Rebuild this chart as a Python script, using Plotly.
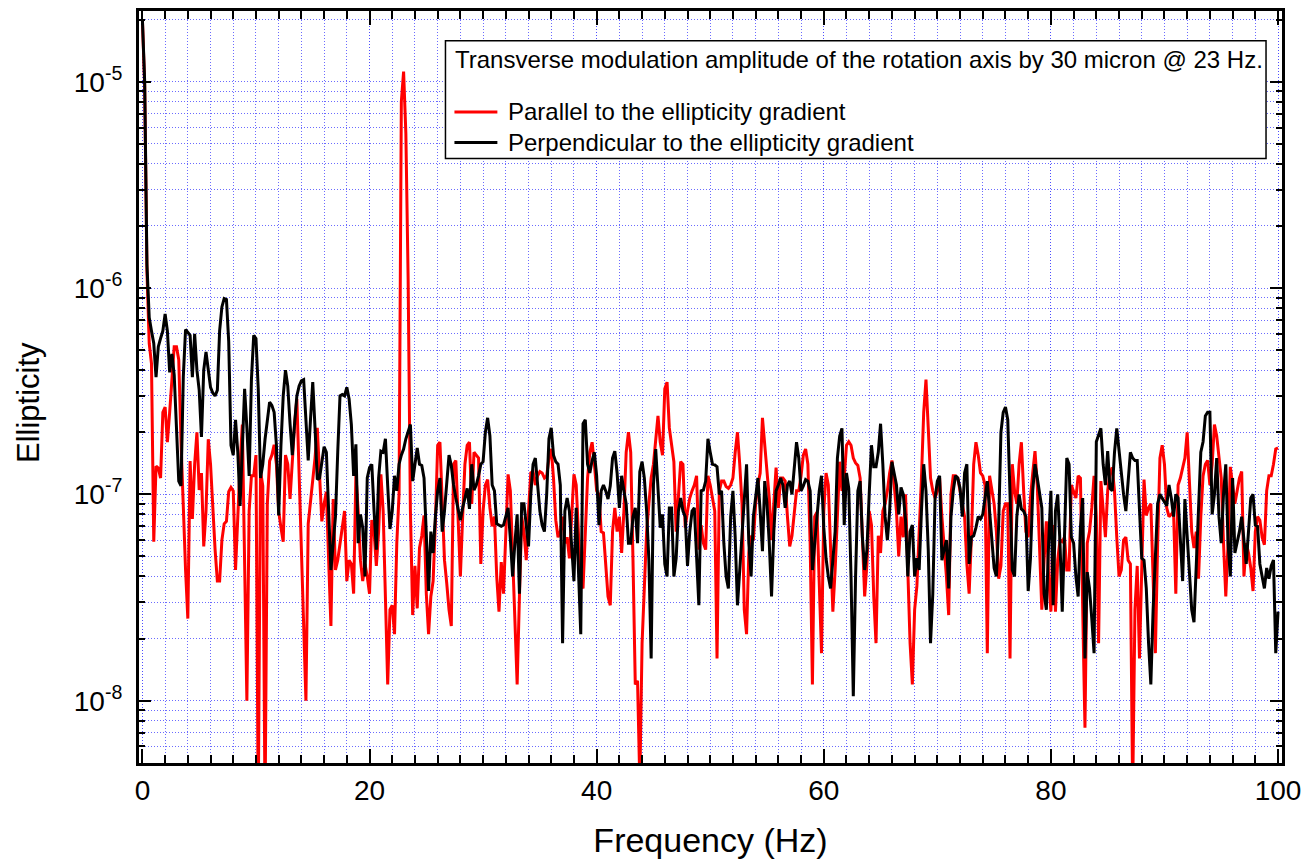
import plotly.graph_objects as go

# Ellipticity values in units of 1e-8, sampled every 0.2 Hz from 0 to 100 Hz
parallel_e8 = [
    2000, 950, 120, 54, 43, 5.9, 13.7, 13.4, 12, 25,
    26.5, 17.9, 25, 37, 52, 52, 45, 18, 8.5, 4.3,
    2.5, 14.5, 7.6, 14, 20, 10.5, 12.7, 5.6, 8.3, 18.5,
    14, 8.3, 5.4, 3.8, 3.8, 6, 7.2, 7.4, 10.3, 10.8,
    10.4, 4.3, 8.3, 14, 21.8, 4.6, 1.0, 8.3, 12.3, 12.3,
    15.5, 0.3, 13, 11, 0.3, 9, 14.5, 15.5, 17.4, 14,
    8.3, 6.9, 5.9, 15.5, 14, 9.5, 15.5, 21.8, 29, 12,
    4.5, 1.9, 1.0, 7.2, 9, 11.5, 15, 21, 12, 7.4,
    9, 10.3, 4.8, 2.3, 9.5, 4.3, 4.8, 5.8, 7.2, 8.3,
    3.8, 4.8, 4.6, 3.3, 12.5, 8.3, 4.8, 3.8, 4.6, 4,
    3.3, 7.5, 6.6, 4.5, 6.6, 12.5, 8.3, 2.76, 1.2, 2.76,
    2.9, 2.1, 5.8, 10, 800, 1120, 560, 110, 8.3, 2.6,
    4.5, 2.8, 5.5, 6.3, 7.9, 3.3, 2.1, 3.2, 3.8, 7.4,
    17.3, 17.9, 8.3, 4.8, 3.7, 2.76, 2.3, 14, 14.6, 8.3,
    4, 7.8, 14, 17.3, 17.9, 9, 16, 15.5, 15, 4.6,
    8.3, 11.1, 11.8, 8.6, 7, 7.8, 4, 2.7, 4.7, 3.3,
    6.6, 12.5, 10.4, 4.9, 2.3, 1.2, 3.2, 7.8, 6.6, 4.8,
    8.3, 12.7, 12.9, 11.1, 12.3, 12.9, 12.7, 12, 12.3, 15,
    16.6, 12, 7.5, 6.2, 6.6, 7.8, 5.8, 6.2, 4.9, 8.3,
    12.5, 11.1, 5.8, 3.7, 3.5, 6.6, 12, 16, 17.9, 14,
    10.4, 10, 6.6, 6.5, 4.6, 3.2, 2.9, 6.6, 8.6, 6.6,
    7.8, 5.2, 8.3, 16, 20, 16, 4.8, 1.2, 1.25, 0.4,
    1.9, 4, 6.6, 9, 12, 14, 18.6, 24, 17.9, 15.5,
    32.5, 35, 21, 17.3, 14.4, 6.6, 10.4, 14.4, 14, 6.9,
    8.3, 9.6, 10.4, 11.1, 12.3, 5.4, 7.1, 5.8, 5.4, 12.3,
    11.1, 9.6, 8.3, 1.6, 10.4, 11.6, 11.6, 10.9, 10.7, 11.1,
    12, 16, 20, 14, 9, 2.76, 2.1, 5.2, 6.3, 6,
    9, 11.1, 12.7, 23.5, 17.3, 12, 9.6, 6, 9, 13.5,
    8.6, 12, 12, 11.6, 7.8, 5.6, 6.3, 8.3, 10.4, 10.4,
    12.3, 15.5, 16.6, 14, 5.8, 1.2, 7.8, 8.2, 3.3, 1.7,
    8.3, 12.7, 11.1, 5.8, 2.7, 4.3, 8.3, 14.4, 10.4, 12,
    17.3, 18, 17.3, 15, 14.2, 13.8, 12, 5.8, 3.2, 4.6,
    8.3, 7.1, 3.2, 1.9, 6.3, 5.2, 8.3, 9, 10.4, 12.7,
    14.6, 11.1, 8.3, 5, 7.8, 6.2, 10, 4.3, 1.9, 1.2,
    2.76, 3.6, 6.2, 12, 25, 36, 21, 12, 10.4, 9.6,
    10.4, 12, 7.8, 5.8, 4, 2.6, 10, 12.3, 12.3, 12,
    10.4, 9, 7.8, 4.6, 3.3, 6.2, 14, 17.9, 15.5, 12.7,
    12.3, 11.1, 1.7, 12.3, 10.4, 9, 6.6, 3.9, 4.5, 8.3,
    9, 9, 1.6, 14, 10.4, 9, 14, 17.9, 10.4, 6.6,
    6.2, 9.6, 12.7, 16.2, 11.1, 5.4, 2.76, 4.8, 7.4, 4,
    2.7, 7.1, 2.7, 4.8, 6, 5.9, 6.2, 4.3, 4.3, 11.1,
    10.4, 9.6, 12.3, 12, 2.76, 0.74, 5.8, 6.6, 8.6, 12.3,
    7.8, 1.9, 11.6, 8.3, 6.2, 10.4, 12.7, 13.5, 10.4, 6.2,
    4, 4.3, 6, 6.2, 4.8, 4.6, 0.35, 2.76, 4.5, 1.6,
    4.6, 11.8, 7.9, 8.6, 9, 4, 1.7, 5.8, 15, 17.3,
    14, 8.6, 7.8, 8, 8.3, 3.3, 11.1, 12, 13.5, 15,
    20, 12, 6.6, 5.5, 6.6, 3.9, 7.8, 12.3, 14, 14.6,
    11.1, 14, 21.8, 19.2, 15, 12, 5.8, 3.2, 5.8, 13.6,
    11.1, 9, 10.4, 12, 12.9, 4, 5.8, 5.2, 4.4, 3.4,
    6.6, 7.8, 7.5, 6.2, 5.7, 10.4, 12.3, 12.3, 14, 16.6,
    16.8,
]

perpendicular_e8 = [
    2000, 1000, 130, 72, 62, 54, 37, 52, 57, 62,
    75, 62, 39, 48, 38, 21, 11.6, 11, 37, 63,
    61, 59, 37, 60, 40, 32, 19, 40, 49, 39,
    33, 31, 30, 32, 62, 81, 89, 88, 55, 17.3,
    15.5, 23, 16, 8.8, 17.3, 32.5, 21, 12.3, 36, 59,
    57, 32.5, 12, 14, 18.5, 23, 28, 27, 25, 17.3,
    7.9, 17.3, 30, 40, 33.5, 22, 15.5, 22, 30, 33.5,
    35.5, 36, 21, 14.6, 23, 35, 21, 11.8, 12, 14,
    17, 16, 8.3, 4.3, 5.8, 7.8, 16, 30, 30.5, 30,
    33, 29, 21.8, 12.3, 17.5, 5.8, 8, 6.9, 4, 12,
    13.5, 14, 8.3, 5.4, 12, 16.2, 16, 18.6, 11, 6.8,
    8.3, 12.3, 10.4, 14, 15.5, 16.6, 18.6, 20, 21.8, 11.6,
    14, 16.8, 14, 13.8, 12, 5.8, 3.4, 6.6, 5.2, 7.8,
    10.4, 12, 6.6, 8.3, 12, 15.5, 13.8, 11.1, 9.6, 8.6,
    7.5, 8.6, 9.6, 10.7, 8.5, 14, 10.5, 11.1, 12.3, 14,
    14.4, 20, 23.5, 19.2, 11.1, 10.4, 7.2, 7.1, 7, 7.1,
    7.8, 8.6, 6.1, 4, 5.8, 8, 3.3, 9, 9, 7.1,
    5.6, 10, 14, 15, 11.1, 8.3, 7.1, 6.6, 10, 18.6,
    21, 15.5, 14.4, 14, 11.1, 1.9, 8.3, 9.6, 8.3, 5.2,
    3.8, 8.6, 4.5, 2.1, 22, 23, 14, 12.7, 14.6, 16,
    12.3, 7.1, 10.4, 11.1, 10.4, 9.5, 11, 15, 16.2, 12.7,
    8.6, 12.3, 10.4, 9, 5.8, 5.8, 7.8, 8.6, 5.8, 12.9,
    14.4, 12, 8.3, 4.8, 1.6, 11.1, 16.6, 10, 6.9, 8,
    4.6, 4, 8.6, 8.6, 4, 4.9, 8.3, 9.6, 8.3, 7.8,
    4.5, 6.6, 8.3, 8.6, 4.8, 2.9, 10.4, 10.5, 11.6, 18.6,
    16, 14, 13.9, 13.6, 10, 10.4, 5.8, 4, 3.5, 7.8,
    10.4, 6.2, 2.9, 4.3, 7.1, 10.4, 14, 5.8, 4, 7.8,
    9.6, 12, 8.3, 5.3, 11.6, 9, 5.8, 3.2, 6.6, 10.4,
    11.1, 12, 11.1, 8.6, 11.1, 11.6, 10, 14, 17.9, 15,
    10.4, 11, 11.8, 11.6, 10.4, 4.3, 5.8, 7.8, 10.4, 12.3,
    6.9, 4.9, 4, 3.5, 4.6, 6.6, 15, 19.2, 20.9, 7.1,
    12.7, 10.7, 4, 1.05, 4, 10.4, 11.6, 6.2, 4.3, 5.4,
    10, 17.3, 13.6, 13.6, 16, 22, 14, 7.8, 6, 8.3,
    14.4, 12.7, 11.1, 8, 10.8, 10, 7.5, 4, 6.6, 7.1,
    4, 4.9, 4.3, 8.3, 14, 10.4, 5.4, 1.9, 3.3, 9.6,
    11.6, 12.3, 4.8, 5.4, 6, 3.5, 7.8, 10.4, 12.3, 12,
    10.7, 7.8, 12.7, 14, 4.6, 6.2, 6.3, 6.9, 7.8, 7.6,
    8, 9.6, 11.6, 8.3, 5.8, 4.4, 4, 7.1, 20, 25,
    26.5, 23, 10, 4.3, 4, 7.8, 10, 8.5, 8.3, 7.8,
    3.4, 4.9, 10.4, 14, 12, 10, 8.6, 3.3, 2.76, 5.8,
    10.4, 2.9, 8.3, 10, 5.8, 2.7, 6.6, 15, 14, 6.2,
    5.8, 4, 3.2, 6.9, 9.6, 1.6, 4.2, 3.5, 2.5, 1.7,
    18, 19.2, 20.9, 14, 11.1, 16.2, 10.7, 10.4, 16, 20.9,
    16, 12.7, 10, 8.3, 12, 16, 15, 14.6, 14.6, 8.3,
    4.9, 4.8, 3.5, 1.9, 1.2, 2.76, 5.4, 9, 10, 9.6,
    9.3, 8.8, 11.1, 9.6, 7.8, 10, 9.6, 6.2, 3.8, 9.5,
    6.1, 4, 2.76, 2.4, 4.3, 8.3, 16, 18, 24, 25,
    25, 8, 10, 15, 7.8, 5.8, 10, 14, 5.8, 4,
    12, 5.2, 5.8, 6.6, 7.8, 6, 4.6, 6.6, 9.6, 10,
    7.1, 7, 4.6, 4, 3.5, 4.4, 3.9, 4.5, 4.8, 1.7,
    2.7,
]

freq_step_hz = 0.2
frequency = [round(i * freq_step_hz, 1) for i in range(len(parallel_e8))]
parallel = [v * 1e-8 for v in parallel_e8]
perpendicular = [v * 1e-8 for v in perpendicular_e8]

x_ticks = [0, 20, 40, 60, 80, 100]
y_ticks = [1e-8, 1e-7, 1e-6, 1e-5]
y_ticktext = ["10<sup>-8</sup>", "10<sup>-7</sup>", "10<sup>-6</sup>", "10<sup>-5</sup>"]
y_minor = [k * 10.0 ** e for e in range(-9, -4) for k in range(2, 10)]

legend_title = "Transverse modulation amplitude of the rotation axis by 30 micron @ 23 Hz."
names = ["Parallel to the ellipticity gradient", "Perpendicular to the ellipticity gradient"]
colors = ["#ff0000", "#000000"]
x_title = "Frequency (Hz)"
y_title = "Ellipticity"

FONT = "Liberation Sans, Arial, Helvetica, sans-serif"
GRID = "rgba(70,70,255,0.8)"
GRIDDASH = "1px,2px"

# plot-area geometry (pixels) used to place the legend box and y title
W, H = 1309, 861
ML, MR, MT, MB = 139, 25, 8, 93
PW, PH = W - ML - MR, H - MT - MB


def px(xp):
    return (xp - ML) / PW


def py(yp):
    return (H - MB - yp) / PH


fig = go.Figure()
for name, vals, col in zip(names, [parallel, perpendicular], colors):
    fig.add_trace(go.Scatter(x=frequency, y=vals, mode="lines", name=name,
                             line=dict(color=col, width=3), showlegend=False))

# legend drawn as a boxed block (title line, blank line, two keyed entries)
shapes = [dict(type="rect", xref="paper", yref="paper", layer="above",
               x0=px(446), x1=px(1268), y0=py(38), y1=py(157),
               line=dict(color="black", width=1.5), fillcolor="white")]
annotations = [dict(xref="paper", yref="paper", x=px(454), y=py(57),
                    xanchor="left", yanchor="middle", showarrow=False,
                    text=legend_title, font=dict(size=24, family=FONT, color="black"))]
for i, (name, col) in enumerate(zip(names, colors)):
    yk = 110 + 31 * i
    shapes.append(dict(type="line", xref="paper", yref="paper", layer="above",
                       x0=px(455), x1=px(498), y0=py(yk), y1=py(yk),
                       line=dict(color=col, width=3)))
    annotations.append(dict(xref="paper", yref="paper", x=px(507), y=py(yk),
                            xanchor="left", yanchor="middle", showarrow=False,
                            text=name, font=dict(size=24, family=FONT, color="black")))

# y-axis title (placed slightly below the axis centre, as in the reference)
annotations.append(dict(xref="paper", yref="paper", x=px(29), y=py(404),
                        xanchor="center", yanchor="middle", showarrow=False,
                        textangle=-90, text=y_title,
                        font=dict(size=31, family=FONT, color="black")))

fig.update_layout(
    width=W, height=H,
    margin=dict(l=ML, r=MR, t=MT, b=MB),
    paper_bgcolor="white", plot_bgcolor="white",
    font=dict(family=FONT, color="black", size=24),
    showlegend=False,
    shapes=shapes, annotations=annotations,
)

fig.update_xaxes(
    range=[-0.3, 100.35], tickvals=x_ticks,
    ticks="inside", ticklen=14, tickwidth=2, tickcolor="black",
    showline=True, linewidth=3, linecolor="black", mirror="allticks",
    showgrid=True, gridcolor=GRID, griddash=GRIDDASH, gridwidth=1,
    zeroline=False,
    tickfont=dict(size=28, family=FONT),
    title=dict(text=x_title, font=dict(size=34, family=FONT), standoff=24),
    minor=dict(dtick=2, ticks="inside", ticklen=8, tickwidth=2, tickcolor="black",
               showgrid=True, gridcolor=GRID, griddash=GRIDDASH, gridwidth=1),
)

fig.update_yaxes(
    type="log", range=[-8.302, -4.657],
    tickvals=y_ticks, ticktext=y_ticktext,
    ticks="inside", ticklen=12, tickwidth=2, tickcolor="black",
    showline=True, linewidth=3, linecolor="black", mirror="allticks",
    showgrid=True, gridcolor=GRID, griddash=GRIDDASH, gridwidth=1,
    zeroline=False, ticklabelstandoff=8,
    tickfont=dict(size=28, family=FONT),
    minor=dict(tickvals=y_minor, ticks="inside", ticklen=6, tickwidth=1.5, tickcolor="black",
               showgrid=True, gridcolor=GRID, griddash=GRIDDASH, gridwidth=1),
)

fig.write_html("out.html")
